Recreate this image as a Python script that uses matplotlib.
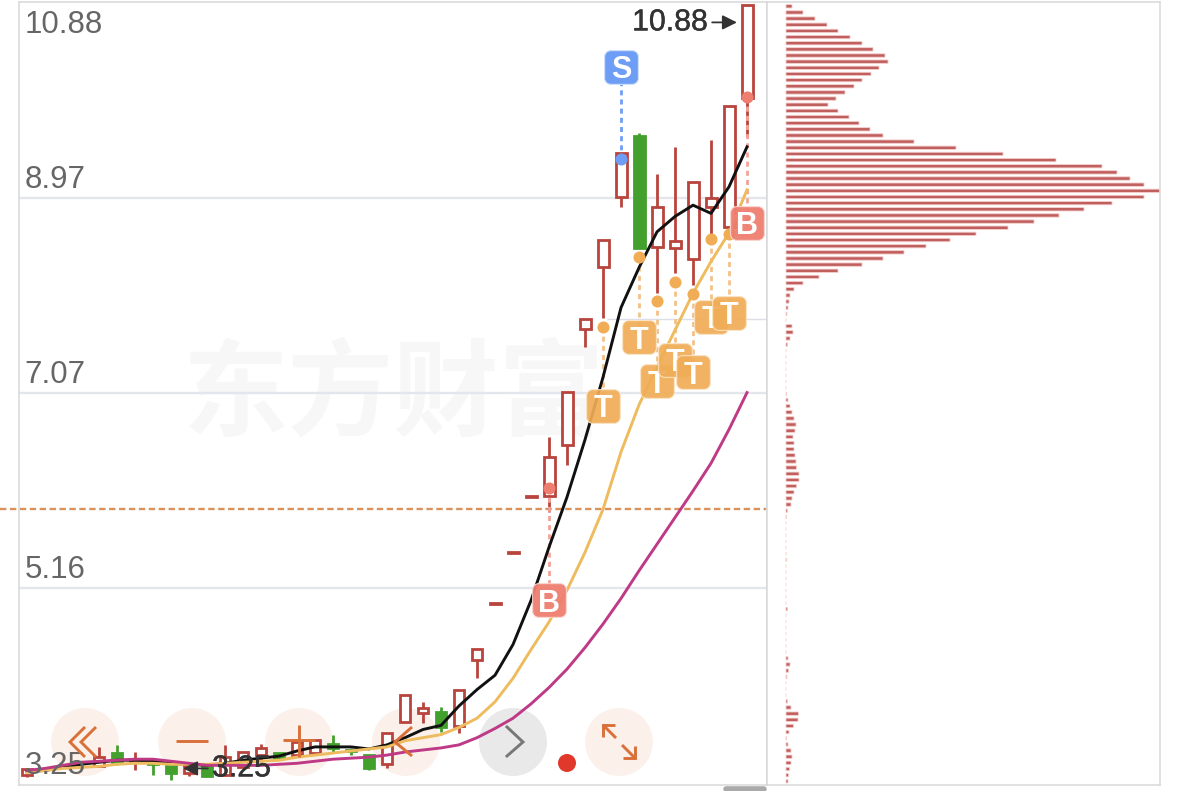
import numpy as np
import matplotlib
matplotlib.use("Agg")
import matplotlib.pyplot as plt
import matplotlib.patheffects as pe
from matplotlib.path import Path
from matplotlib.patches import Circle

plt.rcParams["font.family"] = ["Liberation Sans", "DejaVu Sans"]

W, H = 1179, 791

# candles
idx = [0, 4, 5, 6, 7, 8, 9, 10, 11, 12, 13, 14, 15, 16, 17, 18, 19, 20, 21, 22,
       23, 24, 25, 26, 27, 28, 29, 30, 31, 32, 33, 34, 35, 36, 37, 38, 39, 40]
opens = [3.34, 3.42, 3.55, 3.46, 3.46, 3.43, 3.36, 3.41, 3.34, 3.41, 3.53, 3.55, 3.53, 3.55, 3.64, 3.58, 3.53, 3.44, 3.85, 3.94,
         3.95, 3.81, 4.46, 5.01, 5.50, 6.05, 6.06, 6.56, 7.69, 8.30, 8.98, 9.58, 8.49, 8.48, 8.37, 8.88, 8.69, 9.95]
closes = [3.39, 3.51, 3.46, 3.48, 3.44, 3.36, 3.42, 3.33, 3.51, 3.56, 3.60, 3.50, 3.66, 3.68, 3.60, 3.57, 3.40, 3.75, 4.12, 3.99,
          3.80, 4.17, 4.57, 5.02, 5.51, 6.06, 6.44, 7.08, 7.79, 8.56, 9.41, 8.48, 8.88, 8.55, 9.13, 8.97, 9.87, 10.85]
highs = [3.39, 3.61, 3.63, 3.56, 3.46, 3.43, 3.42, 3.41, 3.63, 3.56, 3.64, 3.55, 3.66, 3.68, 3.73, 3.60, 3.53, 3.75, 4.12, 4.05,
         4.00, 4.17, 4.57, 5.02, 5.51, 6.06, 6.64, 7.08, 7.79, 8.56, 9.41, 9.60, 9.20, 9.47, 9.13, 9.54, 9.87, 10.85]
lows = [3.32, 3.42, 3.43, 3.38, 3.34, 3.29, 3.33, 3.33, 3.33, 3.41, 3.46, 3.50, 3.51, 3.55, 3.56, 3.53, 3.38, 3.40, 3.85, 3.84,
        3.76, 3.75, 4.28, 5.01, 5.50, 6.05, 5.90, 6.36, 7.52, 7.80, 8.88, 8.48, 8.04, 8.24, 8.12, 8.61, 8.69, 9.57]

# moving averages, one value per session
ma_black = [3.37, 3.38, 3.41, 3.44, 3.46, 3.48, 3.48, 3.47, 3.45, 3.44, 3.43, 3.45, 3.48, 3.50, 3.52, 3.57, 3.61, 3.61, 3.61, 3.59, 3.63,
            3.70, 3.78, 3.82, 4.01, 4.17, 4.31, 4.61, 5.04, 5.56, 6.05, 6.61, 7.22, 7.90, 8.29, 8.64, 8.79, 8.90, 8.82, 9.08, 9.47]
ma_gold = [3.36, 3.38, 3.40, 3.41, 3.42, 3.44, 3.45, 3.45, 3.44, 3.44, 3.44, 3.45, 3.46, 3.47, 3.48, 3.51, 3.53, 3.55, 3.57, 3.59, 3.61,
           3.67, 3.70, 3.73, 3.80, 3.89, 4.05, 4.28, 4.56, 4.83, 5.14, 5.51, 5.93, 6.49, 6.95, 7.32, 7.68, 8.04, 8.35, 8.63, 9.05]
ma_purple = [3.38, 3.40, 3.43, 3.46, 3.47, 3.48, 3.49, 3.49, 3.47, 3.45, 3.43, 3.43, 3.43, 3.43, 3.44, 3.45, 3.47, 3.49, 3.50, 3.51, 3.53,
             3.56, 3.58, 3.60, 3.63, 3.70, 3.79, 3.89, 4.03, 4.19, 4.37, 4.58, 4.81, 5.06, 5.33, 5.59, 5.85, 6.11, 6.38, 6.71, 7.07]

# price axis
price_ticks = [10.88, 8.97, 7.07, 5.16, 3.25]
grid_prices = [8.97, 7.07, 5.16]
cost_price = 5.93
faint_price = 7.79

# signals
t_idx = [32, 34, 35, 36, 37, 38, 39]
t_dot = [7.71, 8.39, 7.96, 8.15, 8.03, 8.57, 8.62]
t_badge = [6.94, 7.61, 7.18, 7.39, 7.27, 7.81, 7.85]
b_idx = [29, 40]
b_dot = [6.14, 9.96]
b_badge = [5.04, 8.73]
s_idx = [33]
s_dot = [9.35]
s_badge = [10.25]

# volume profile, top row first
volumes = [6, 17, 29, 41, 52, 64, 76, 87, 99, 102, 93, 85, 76, 68, 59, 50, 42, 52, 63, 73,
           84, 97, 128, 170, 217, 270, 316, 331, 344, 358, 374, 358, 326, 298, 273, 248, 222, 190, 164, 140,
           118, 97, 76, 52, 33, 17, 8, 4, 3, 2, 1, 0, 6, 7, 4, 1.5, 0, 0, 0, 0,
           0, 0, 0, 0.5, 2, 4, 6, 8, 10, 9, 7, 8, 8, 9, 10, 10.5, 13, 13, 10.5, 8,
           6, 5, 1.5, 0.3, 0, 0, 0, 0, 0, 0, 0.8, 0, 0, 0, 0, 0, 0, 0, 1.5, 0,
           0, 0, 0, 0, 0, 0, 2, 4, 2.5, 1, 0, 0, 0, 1.5, 5, 12.5, 12, 7.5, 3, 0.3,
           2, 5, 6, 5, 3.5, 2.5, 2]

RED = "#b9443d"
GREEN = "#43a02d"
ORANGE = "#f0ad56"
ORANGE_LINK = "#f3c187"
SALMON = "#ee7f70"
BLUE = "#6d9df5"
FRAME = "#d8d8d8"


def rect(x0, y0, x1, y1):
    return [x0 / W, 1 - y1 / H, (x1 - x0) / W, (y1 - y0) / H]


def rounded_square(r=0.36):
    k = 1 - r
    c = 1 - r * 0.45
    verts = [(-k, -1), (k, -1), (c, -1), (1, -c), (1, -k), (1, k), (1, c), (c, 1), (k, 1),
             (-k, 1), (-c, 1), (-1, c), (-1, k), (-1, -k), (-1, -c), (-c, -1), (-k, -1)]
    codes = [Path.MOVETO, Path.LINETO, Path.CURVE4, Path.CURVE4, Path.CURVE4, Path.LINETO,
             Path.CURVE4, Path.CURVE4, Path.CURVE4, Path.LINETO, Path.CURVE4, Path.CURVE4,
             Path.CURVE4, Path.LINETO, Path.CURVE4, Path.CURVE4, Path.CURVE4]
    return Path(verts, codes)


fig = plt.figure(figsize=(W / 100, H / 100), dpi=100, facecolor="white")

# button discs go behind the chart, their icons in front
ui_back = fig.add_axes([0, 0, 1, 1], zorder=0)
ui_back.set_xlim(0, W)
ui_back.set_ylim(H, 0)
ui_back.axis("off")
for cx in [85, 192, 299, 406, 619]:
    ui_back.add_patch(Circle((cx, 742), 34, facecolor="#fbf1ea", edgecolor="none"))
ui_back.add_patch(Circle((513, 742), 34, facecolor="#e9e9e9", edgecolor="none"))

ax = fig.add_axes(rect(19, 1.5, 767, 785), zorder=1)
ax.patch.set_alpha(0)
ax.set_xlim(-0.444, 41.11)
ax.set_ylim(3.238, 10.889)
ax.set_xticks([])
ax.set_yticks([])
for s in ax.spines.values():
    s.set_color(FRAME)
    s.set_linewidth(1.1)

ax.text(20.4, 7.03, "东方财富", family=["Noto Sans CJK SC", "DejaVu Sans"], fontsize=76, weight="bold",
        color="#f7f7f7", ha="center", va="center", zorder=0)

ax.hlines(grid_prices, -0.444, 41.11, color="#e4e6ee", lw=1.7, zorder=1)
ax.hlines(faint_price, 32.2, 41.11, color="#dcdfe8", lw=1, zorder=1)
ax.hlines(cost_price, -1.5, 41.11, color="#d9925c", lw=1.7, linestyles=(0, (2.7, 1.5)), clip_on=False, zorder=2)

# candles
for i, o, c, h, l in zip(idx, opens, closes, highs, lows):
    col = RED if c >= o else GREEN
    ax.vlines(i, l, h, color=col, lw=2.0, zorder=3)
    ax.bar(i, abs(c - o), bottom=min(o, c), width=0.61, facecolor="white" if c >= o else GREEN,
           edgecolor=col, linewidth=2.0, zorder=3)

# dashed links from dot to badge
for i, d, b in zip(t_idx, t_dot, t_badge):
    ax.plot([i, i], [d, b], color=ORANGE_LINK, lw=2, dashes=(1.8, 1.5), zorder=4)
for i, d, b in zip(b_idx, b_dot, b_badge):
    ax.plot([i, i], [d, b], color="#f2a497", lw=2, dashes=(1.8, 1.5), zorder=4)
for i, d, b in zip(s_idx, s_dot, s_badge):
    ax.plot([i, i], [d, b], color=BLUE, lw=2, dashes=(1.8, 1.5), zorder=4)

x_ma = np.arange(len(ma_black))
ax.plot(x_ma, ma_black, color="#111111", lw=2.1, zorder=5, solid_joinstyle="round")
ax.plot(x_ma, ma_gold, color="#eebb5e", lw=2.1, zorder=5, solid_joinstyle="round")
ax.plot(x_ma, ma_purple, color="#be3a86", lw=2.1, zorder=5, solid_joinstyle="round")

ax.scatter(t_idx, t_dot, s=75, color=ORANGE, linewidths=0, zorder=6)
ax.scatter(b_idx, b_dot, s=75, color=SALMON, linewidths=0, zorder=6)
ax.scatter(s_idx, s_dot, s=75, color=BLUE, linewidths=0, zorder=6)

square = rounded_square()
z = 7
for i, b in sorted(zip(t_idx, t_badge), key=lambda p: [35, 36, 37, 32, 34, 38, 39].index(p[0])):
    ax.scatter([i], [b], marker=square, s=590, color=ORANGE, alpha=0.92, edgecolors="#fbe3c4", linewidths=0.8, zorder=z)
    ax.text(i, b, "T", color="white", fontsize=22, weight="bold", ha="center", va="center_baseline", zorder=z)
    z += 0.1
for i, b in zip(b_idx, b_badge):
    ax.scatter([i], [b], marker=square, s=590, color=SALMON, alpha=0.95, edgecolors="#fbd5d0", linewidths=0.8, zorder=z)
    ax.text(i, b, "B", color="white", fontsize=22, weight="bold", ha="center", va="center_baseline", zorder=z)
for i, b in zip(s_idx, s_badge):
    ax.scatter([i], [b], marker=square, s=590, color=BLUE, edgecolors="#cfe0fb", linewidths=0.8, zorder=z)
    ax.text(i, b, "S", color="white", fontsize=22, weight="bold", ha="center", va="center_baseline", zorder=z)

# price labels sit just off their gridline
for p in price_ticks:
    off = -16.5 if p == price_ticks[0] else 13
    ax.annotate("{:.2f}".format(p), xy=(0, p), xycoords=("axes fraction", "data"),
                xytext=(4, off), textcoords="offset points", fontsize=22.5, color="#666666",
                ha="left", va="center", zorder=8)

thick = [pe.withStroke(linewidth=0.3, foreground="#333333")]
ax.annotate("10.88", xy=(39.44, 10.685), xytext=(37.83, 10.685), fontsize=21.8, color="#333333", ha="right", va="center",
            path_effects=thick,
            arrowprops=dict(arrowstyle="-|>", color="#333333", lw=1.3, shrinkA=1, shrinkB=0), zorder=8)
ax.annotate("3.25", xy=(8.67, 3.40), xytext=(10.28, 3.40), fontsize=21.8, color="#333333", ha="left", va="center",
            path_effects=thick,
            arrowprops=dict(arrowstyle="-|>", color="#333333", lw=1.3, shrinkA=1, shrinkB=0), zorder=8)

# volume profile
side = fig.add_axes(rect(767, 1.5, 1160, 785), zorder=1)
rows = np.arange(len(volumes))
bars = side.barh(rows, volumes, height=0.55, color="#c0605e", edgecolor="#f6cfcf", linewidth=0.6)
for b in bars:
    b.set_snap(False)
side.set_xlim(-19, 374)
side.set_ylim(126.6, -0.78)
side.set_xticks([])
side.set_yticks([])
for s in side.spines.values():
    s.set_color(FRAME)
    s.set_linewidth(1.1)

ui = fig.add_axes([0, 0, 1, 1], zorder=2)
ui.set_xlim(0, W)
ui.set_ylim(H, 0)
ui.axis("off")
ui.add_patch(Circle((567, 763), 9, facecolor="#e0392b", edgecolor="none"))

ICON = "#d9703a"
icons = [
    [(85, 727), (70, 742), (85, 757)],
    [(96, 727), (81, 742), (96, 757)],
    [(176, 741), (208, 741)],
    [(283, 740), (315, 740)],
    [(299, 725), (299, 757)],
    [(412, 727), (395, 742), (412, 756)],
    [(603, 737), (603, 725), (615, 725)],
    [(603, 725), (616, 738)],
    [(635, 746), (635, 758), (623, 758)],
    [(635, 758), (622, 745)],
]
for pts in icons:
    xs, ys = zip(*pts)
    ui.plot(xs, ys, color=ICON, lw=2.1, solid_capstyle="butt", solid_joinstyle="miter")
xs, ys = zip(*[(507, 727), (523, 742), (507, 756)])
ui.plot(xs, ys, color="#777777", lw=2.1, solid_joinstyle="miter")
ui.plot([726, 764], [789, 789], color="#aaaaaa", lw=4, solid_capstyle="round")

fig.savefig("out.png", dpi=100)
